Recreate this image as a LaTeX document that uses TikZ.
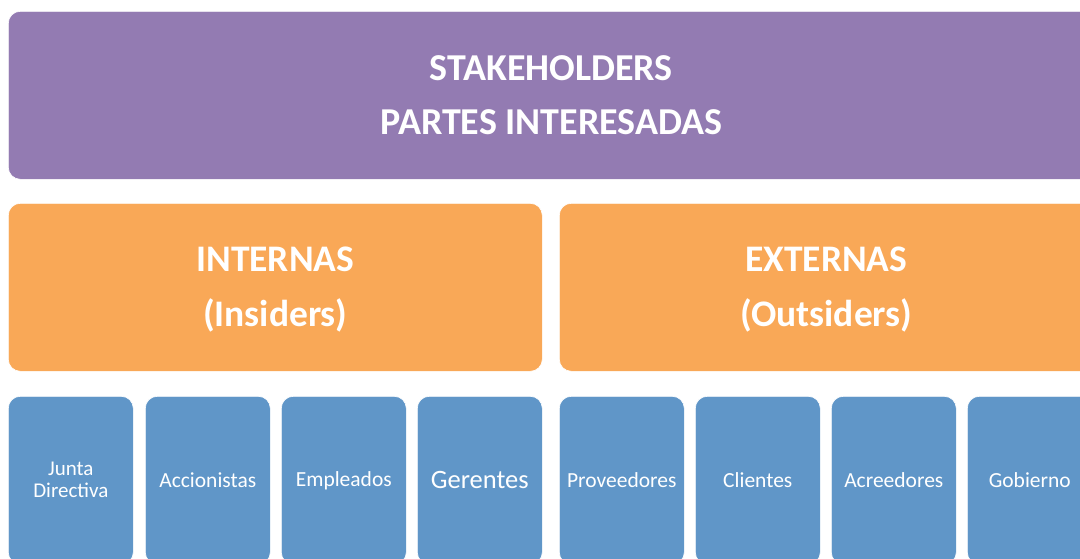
\documentclass[tikz,border=0pt]{standalone}
\usepackage{fontspec}
\setmainfont{Carlito}
\definecolor{purp}{RGB}{147,123,178}
\definecolor{oran}{RGB}{249,168,87}
\definecolor{blu}{RGB}{96,150,200}
\begin{document}
\begin{tikzpicture}[x=1pt,y=-1pt,
  box/.style={rectangle,rounded corners=12pt,draw=white,line width=0.6pt,inner sep=0pt,align=center,text=white,anchor=north west},
  topbox/.style={box,fill=purp,minimum width=1086pt,minimum height=168pt,font=\fontsize{38}{54}\selectfont\bfseries},
  midbox/.style={box,fill=oran,minimum width=534pt,minimum height=168pt,font=\fontsize{37.5}{55}\selectfont\bfseries},
  leaf/.style={box,fill=blu,minimum width=125pt,minimum height=168pt,font=\fontsize{21.5}{22}\selectfont}]
\useasboundingbox (0,0) rectangle (1080,558);
\clip (0,0) rectangle (1080,558);
\node[topbox] (top) at (8,11) {STAKEHOLDERS\\PARTES INTERESADAS};
\node[midbox] (int) at (8,203) {\rule{0pt}{30pt}INTERNAS\\(Insiders)};
\node[midbox] (ext) at (559,203) {\rule{0pt}{30pt}EXTERNAS\\(Outsiders)};
\node[leaf,font=\fontsize{21}{22}\selectfont] (jd) at (8,396) {Junta\\Directiva};
\node[leaf] (acc) at (145,396) {Accionistas};
\node[leaf] (emp) at (281,396) {Empleados};
\node[leaf,font=\fontsize{26.5}{28}\selectfont] (ger) at (417,396) {Gerentes};
\node[leaf] (pro) at (559,396) {Proveedores};
\node[leaf] (cli) at (695,396) {Clientes};
\node[leaf] (acr) at (831,396) {Acreedores};
\node[leaf] (gob) at (967,396) {Gobierno};
\end{tikzpicture}
\end{document}
